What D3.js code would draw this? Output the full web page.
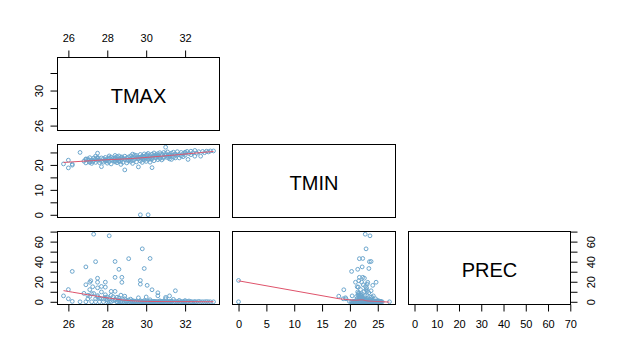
<!DOCTYPE html>
<html>
<head>
<meta charset="utf-8">
<script src="https://cdn.jsdelivr.net/npm/d3@7"></script>
<style>
body { margin: 0; background: #fff; }
</style>
</head>
<body>
<script>
// variables on the diagonal
const vars = ["TMAX", "TMIN", "PREC"];

const tmax = [
  27.3, 28.1, 29.8, 29.1, 30.2, 27.4, 28.4, 26.9, 29.9, 28.6,
  26.2, 28.4, 28.75, 27.5, 27.15, 29.7, 30.1, 27.1, 27.5, 27.9,
  28.75, 29.7, 30.05, 26.9, 27.7, 30.3, 26.0, 31.5, 25.75, 26.0,
  26.6, 26.2, 27.25, 27.5, 27.9, 28.4, 27.1, 30.6, 31.2, 31.0,
  26.8, 26.9, 27.0, 27.0, 27.1, 27.2, 27.2, 27.3, 27.4, 27.4,
  27.5, 27.5, 27.6, 27.6, 27.7, 27.7, 27.8, 27.8, 27.9, 27.9,
  28.0, 28.0, 28.0, 28.1, 28.1, 28.2, 28.2, 28.2, 28.3, 28.3,
  28.4, 28.4, 28.5, 28.5, 28.5, 28.6, 28.6, 28.7, 28.7, 28.7,
  28.8, 28.8, 28.9, 28.9, 28.9, 29.0, 29.0, 29.0, 29.1, 29.1,
  29.2, 29.2, 29.2, 29.3, 29.3, 29.3, 29.4, 29.4, 29.4, 29.5,
  29.5, 29.5, 29.6, 29.6, 29.6, 29.7, 29.7, 29.7, 29.8, 29.8,
  29.8, 29.9, 29.9, 29.9, 30.0, 30.0, 30.0, 30.1, 30.1, 30.1,
  30.2, 30.2, 30.2, 30.3, 30.3, 30.3, 30.4, 30.4, 30.4, 30.5,
  30.5, 30.5, 30.6, 30.6, 30.6, 30.7, 30.7, 30.7, 30.8, 30.8,
  30.8, 30.9, 30.9, 30.9, 31.0, 31.0, 31.0, 31.1, 31.1, 31.1,
  31.2, 31.2, 31.2, 31.3, 31.3, 31.4, 31.4, 31.5, 31.5, 31.6,
  31.6, 31.7, 31.7, 31.8, 31.8, 31.9, 31.9, 32.0, 32.0, 32.1,
  32.15, 32.2, 32.3, 32.3, 32.4, 32.5, 32.5, 32.6, 32.7, 32.8,
  32.9, 33.0, 33.1, 33.2, 33.3, 33.46, 32.0, 31.3, 29.3, 28.6
];
const tmin = [
  22.75, 23.6, 22.9, 21.7, 22.3, 23.5, 23.8, 22.2, 23.4, 21.4,
  20.3, 21.7, 22.3, 22.6, 21.6, 0, 0, 21.0, 24.7, 22.1,
  23.2, 23.1, 24.1, 22.4, 22.8, 18.9, 21.9, 23.8, 20.4, 18.8,
  25.0, 19.9, 21.3, 23.0, 21.5, 22.6, 22.9, 23.4, 24.2, 23.7,
  21.5, 20.8, 21.9, 22.4, 21.2, 22.0, 20.6, 21.7, 22.3, 21.0,
  21.8, 22.7, 20.9, 22.1, 21.4, 19.3, 22.5, 21.1, 21.9, 23.0,
  22.2, 20.7, 21.6, 22.8, 21.3, 22.0, 23.1, 20.4, 21.8, 22.6,
  21.2, 22.9, 22.1, 20.9, 23.3, 21.7, 22.4, 20.2, 23.0, 21.5,
  22.7, 21.0, 18.0, 22.3, 23.5, 21.9, 22.8, 20.8, 23.2, 22.0,
  21.4, 23.6, 22.5, 20.6, 22.9, 21.8, 23.3, 22.2, 24.0, 21.2,
  22.7, 23.8, 19.2, 22.4, 23.1, 21.6, 24.2, 22.9, 21.0, 23.5,
  22.3, 24.4, 21.9, 23.0, 22.6, 23.9, 21.4, 23.3, 22.2, 24.6,
  22.9, 21.1, 23.7, 22.4, 24.3, 23.1, 21.7, 23.6, 24.8, 22.8,
  23.4, 24.1, 22.1, 23.8, 24.5, 23.0, 22.5, 24.9, 23.6, 22.0,
  24.3, 23.2, 25.0, 22.7, 27.1, 23.9, 24.6, 22.9, 23.5, 25.2,
  24.0, 23.3, 22.4, 24.7, 23.8, 25.1, 23.1, 24.4, 22.8, 23.9,
  25.3, 22.8, 24.2, 23.6, 25.0, 24.5, 23.3, 24.8, 23.9, 25.4,
  22.2, 24.6, 25.5, 24.1, 24.9, 25.8, 23.5, 24.7, 25.3, 23.5,
  25.4, 24.9, 25.5, 25.2, 25.6, 25.6, 25.1, 22.2, 24.3, 23.6
];
const prec = [
  67.4, 65.8, 52.8, 43.0, 43.2, 40.0, 40.2, 34.8, 33.2, 32.4,
  30.3, 24.4, 24.4, 23.5, 21.0, 21.3, 0, 19.5, 19.5, 19.6,
  19.4, 17.6, 16.4, 17.0, 15.3, 12.0, 12.2, 11.0, 5.9, 3.0,
  0, 0.4, 15.0, 13.9, 14.6, 10.4, 12.1, 9.0, 5.9, 4.4,
  8.4, 0, 6.5, 2.8, 5.4, 8.0, 0, 8.3, 3.0, 0,
  5.0, 6.2, 0, 3.5, 9.8, 3.0, 2.8, 0, 4.4, 7.0,
  2.0, 0, 4.8, 0, 3.2, 6.4, 10.4, 0, 5.0, 1.2,
  1.5, 2.4, 4.6, 0, 0, 1.6, 3.8, 0, 0, 6.6,
  2.2, 0, 5.6, 3.0, 0, 0.4, 1.0, 0, 0, 1.8,
  0, 2.6, 0, 0, 1.2, 0, 0, 0, 0.6, 0,
  0.8, 0, 4.0, 0, 0, 1.0, 0, 0, 0, 0,
  0, 0, 0, 1.2, 0, 4.8, 0, 0, 0, 0,
  0, 0, 2.0, 0, 0, 0, 0, 0.4, 0, 0,
  0, 0, 6.0, 0, 0, 0, 0, 1.0, 0, 0,
  0, 0, 0, 0.6, 0, 0, 3.0, 0, 0, 0,
  0, 0, 0, 0.6, 0, 0, 2.4, 0, 0, 0,
  0, 0, 1.4, 0, 0, 0, 0, 0, 0, 0,
  0, 0.8, 0, 0, 0, 0, 0, 0, 0.4, 0,
  0, 0, 0.2, 0, 0, 0, 1.2, 0, 0, 0
];

// axis ticks, and which of them get a label
const tickVals = {
  TMAX: [26, 28, 30, 32],
  TMIN: [0, 5, 10, 15, 20, 25],
  PREC: [0, 10, 20, 30, 40, 50, 60, 70]
};
const sideLabels = {
  TMAX: [26, 30],
  TMIN: [0, 10, 20],
  PREC: [0, 20, 40, 60]
};

const width = 628, height = 363;
const fontFam = "'Liberation Sans', Arial, Helvetica, sans-serif";
const ptCol = "#6CA6CD", smoothCol = "#DF536B";

const colL = [57.5, 232.5, 408.5], colR = [219.5, 395.5, 570.5];
const rowT = [57.5, 144.5, 231.5], rowB = [130.5, 217.5, 304.5];

const data = { TMAX: tmax, TMIN: tmin, PREC: prec };

function padded(v) {
  const [a, b] = d3.extent(v), r = b - a;
  return [a - 0.04 * r, b + 0.04 * r];
}

const xS = vars.map((v, j) => d3.scaleLinear().domain(padded(data[v])).range([colL[j], colR[j]]));
const yS = vars.map((v, i) => d3.scaleLinear().domain(padded(data[v])).range([rowB[i], rowT[i]]));

// port of R's clowess (f = 2/3, iter = 3)
function lowess(xs, ys, f = 2 / 3, iter = 3) {
  const ord = d3.range(xs.length).sort((a, b) => xs[a] - xs[b]);
  const x = ord.map(k => xs[k]), y = ord.map(k => ys[k]);
  const n = x.length;
  const ns = Math.max(2, Math.min(n, Math.floor(f * n + 1e-7)));
  const delta = 0.01 * (x[n - 1] - x[0]);
  const range = x[n - 1] - x[0];
  const fit = new Array(n).fill(0), rw = new Array(n).fill(1), w = new Array(n).fill(0);
  let res = new Array(n).fill(0);

  function lowest(xs0, nleft, nright, userw) {
    const h = Math.max(xs0 - x[nleft], x[nright] - xs0);
    const h9 = 0.999 * h, h1 = 0.001 * h;
    let a = 0, j = nleft;
    while (j < n) {
      w[j] = 0;
      const r = Math.abs(x[j] - xs0);
      if (r <= h9) {
        w[j] = r <= h1 ? 1 : Math.pow(1 - Math.pow(r / h, 3), 3);
        if (userw) w[j] *= rw[j];
        a += w[j];
      } else if (x[j] > xs0) break;
      j++;
    }
    const nrt = j - 1;
    if (a <= 0) return null;
    for (j = nleft; j <= nrt; j++) w[j] /= a;
    if (h > 0) {
      a = 0;
      for (j = nleft; j <= nrt; j++) a += w[j] * x[j];
      let b = xs0 - a, c = 0;
      for (j = nleft; j <= nrt; j++) c += w[j] * (x[j] - a) * (x[j] - a);
      if (Math.sqrt(c) > 0.001 * range) {
        b /= c;
        for (j = nleft; j <= nrt; j++) w[j] *= (b * (x[j] - a) + 1);
      }
    }
    let out = 0;
    for (j = nleft; j <= nrt; j++) out += w[j] * y[j];
    return out;
  }

  for (let it = 0; it <= iter; it++) {
    let nleft = 0, nright = ns - 1, last = -1, i = 0;
    for (;;) {
      if (nright < n - 1) {
        const d1 = x[i] - x[nleft], d2 = x[nright + 1] - x[i];
        if (d1 > d2) { nleft++; nright++; continue; }
      }
      const v = lowest(x[i], nleft, nright, it > 0);
      fit[i] = v === null ? y[i] : v;
      if (last < i - 1) {
        const denom = x[i] - x[last];
        for (let j = last + 1; j < i; j++) {
          const al = (x[j] - x[last]) / denom;
          fit[j] = al * fit[i] + (1 - al) * fit[last];
        }
      }
      last = i;
      const cut = x[last] + delta;
      for (i = last + 1; i < n; i++) {
        if (x[i] > cut) break;
        if (x[i] === x[last]) { fit[i] = fit[last]; last = i; }
      }
      i = Math.max(last + 1, i - 1);
      if (last >= n - 1) break;
    }
    res = y.map((yy, k) => yy - fit[k]);
    if (it >= iter) break;
    const sc = d3.sum(res, r => Math.abs(r)) / n;
    const ar = res.map(Math.abs).sort((a, b) => a - b);
    const m1 = Math.floor(n / 2);
    const cmad = n % 2 === 0 ? 3 * (ar[m1] + ar[n - m1 - 1]) : 6 * ar[m1];
    if (cmad < 1e-7 * sc) break;
    const c9 = 0.999 * cmad, c1 = 0.001 * cmad;
    for (let k = 0; k < n; k++) {
      const r = Math.abs(res[k]);
      rw[k] = r <= c1 ? 1 : r <= c9 ? Math.pow(1 - (r / cmad) * (r / cmad), 2) : 0;
    }
  }
  return x.map((xx, k) => [xx, fit[k]]);
}

const svg = d3.select("body").append("svg")
  .attr("width", width).attr("height", height)
  .style("background", "#fff");

const defs = svg.append("defs");

for (let i = 0; i < 3; i++) {
  for (let j = 0; j <= i; j++) {
    const id = "clip" + i + j;
    defs.append("clipPath").attr("id", id)
      .append("rect")
      .attr("x", colL[j]).attr("y", rowT[i])
      .attr("width", colR[j] - colL[j]).attr("height", rowB[i] - rowT[i]);

    const panel = svg.append("g");
    if (i === j) {
      panel.append("text")
        .attr("x", (colL[j] + colR[j]) / 2)
        .attr("y", (rowT[i] + rowB[i]) / 2 + 8.6)
        .attr("text-anchor", "middle")
        .attr("font-family", fontFam)
        .attr("font-size", 20)
        .text(vars[i]);
    } else {
      const xv = data[vars[j]], yv = data[vars[i]];
      const inner = panel.append("g").attr("clip-path", "url(#" + id + ")");
      inner.selectAll("circle")
        .data(xv.map((d, k) => [d, yv[k]]))
        .join("circle")
        .attr("cx", d => xS[j](d[0]))
        .attr("cy", d => yS[i](d[1]))
        .attr("r", 1.9)
        .attr("fill", "none")
        .attr("stroke", ptCol)
        .attr("stroke-width", 1);

      const line = d3.line().x(d => xS[j](d[0])).y(d => yS[i](d[1]));
      inner.append("path")
        .attr("d", line(lowess(xv, yv)))
        .attr("fill", "none")
        .attr("stroke", smoothCol)
        .attr("stroke-width", 1);
    }
    panel.append("rect")
      .attr("x", colL[j]).attr("y", rowT[i])
      .attr("width", colR[j] - colL[j]).attr("height", rowB[i] - rowT[i])
      .attr("fill", "none").attr("stroke", "#000").attr("stroke-width", 1);
  }
}

function styleAxis(g) {
  g.attr("font-size", 11).attr("font-family", fontFam);
  g.select(".domain").remove();
  g.selectAll(".tick line").attr("stroke", "#000");
  g.selectAll(".tick text").attr("fill", "#000");
}

// top axis over the first column
svg.append("g")
  .attr("transform", "translate(0," + rowT[0] + ")")
  .call(d3.axisTop(xS[0]).tickValues(tickVals.TMAX).tickSize(7).tickPadding(8.2))
  .call(styleAxis);

// bottom axes under each column
vars.forEach((v, j) => {
  svg.append("g")
    .attr("transform", "translate(0," + rowB[2] + ")")
    .call(d3.axisBottom(xS[j]).tickValues(tickVals[v]).tickSize(7).tickPadding(8.2))
    .call(styleAxis);
});

// left axes for each row, labels turned to run upward
vars.forEach((v, i) => {
  const g = svg.append("g")
    .attr("transform", "translate(" + colL[0] + ",0)")
    .call(d3.axisLeft(yS[i]).tickValues(tickVals[v]).tickSize(7)
      .tickFormat(d => sideLabels[v].includes(d) ? d : ""))
    .call(styleAxis);
  g.selectAll(".tick text")
    .attr("x", null).attr("dy", null)
    .attr("text-anchor", "middle")
    .attr("transform", "translate(-14.8,0) rotate(-90)");
});

// right axis on the last row
{
  const g = svg.append("g")
    .attr("transform", "translate(" + colR[2] + ",0)")
    .call(d3.axisRight(yS[2]).tickValues(tickVals.PREC).tickSize(7)
      .tickFormat(d => sideLabels.PREC.includes(d) ? d : ""))
    .call(styleAxis);
  g.selectAll(".tick text")
    .attr("x", null).attr("dy", null)
    .attr("text-anchor", "middle")
    .attr("transform", "translate(24,0) rotate(-90)");
}
</script>
</body>
</html>
